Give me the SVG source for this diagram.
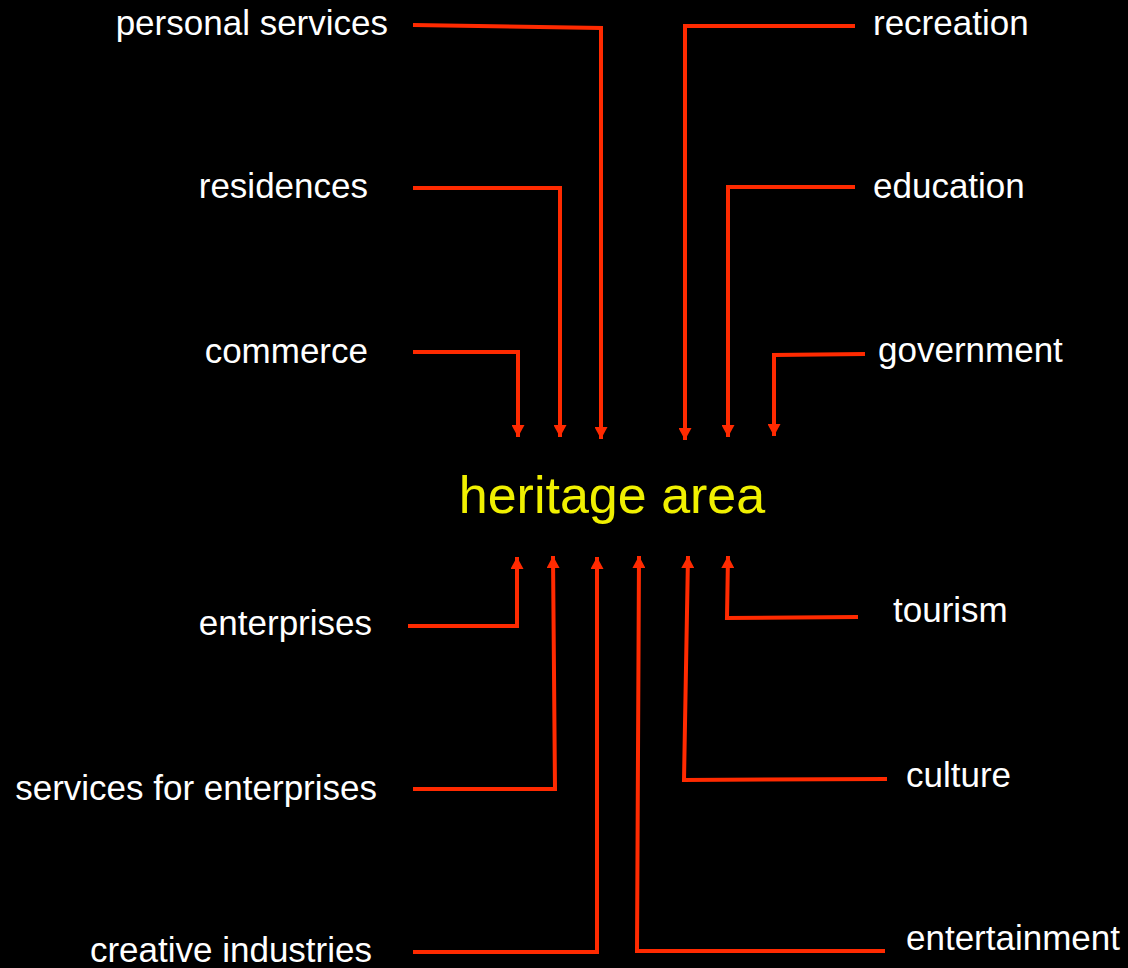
<svg xmlns="http://www.w3.org/2000/svg" width="1128" height="968" viewBox="0 0 1128 968">
<style>
.lbl{font-family:"Liberation Sans",Arial,sans-serif;font-size:35px;fill:#ffffff}
.l{text-anchor:end}
.ttl{font-family:"Liberation Sans",Arial,sans-serif;font-size:52px;fill:#f0f000;text-anchor:middle}
.c{fill:none;stroke:#ff2a00;stroke-width:4;stroke-linejoin:miter}
</style>
<defs>
<marker id="ah" markerUnits="userSpaceOnUse" markerWidth="12" markerHeight="13" viewBox="0 0 12 13" refX="12" refY="6.5" orient="auto">
<path d="M0,0 L12,6.5 L0,13 z" fill="#ff2a00"/>
</marker>
</defs>
<rect width="1128" height="968" fill="#000000"/>
<g id="connectors">
<path class="c" d="M413,25 L601,28 L601,439" marker-end="url(#ah)"/>
<path class="c" d="M413,188 L560,188 L560,437" marker-end="url(#ah)"/>
<path class="c" d="M413,352 L518,352 L518,437" marker-end="url(#ah)"/>
<path class="c" d="M855,26 L685,26 L685,440" marker-end="url(#ah)"/>
<path class="c" d="M855,187 L728,187 L728,437" marker-end="url(#ah)"/>
<path class="c" d="M865,354 L774,355 L774,436" marker-end="url(#ah)"/>
<path class="c" d="M408,626 L517,626 L517,557" marker-end="url(#ah)"/>
<path class="c" d="M413,789 L555,789 L553,556" marker-end="url(#ah)"/>
<path class="c" d="M413,952 L597,952 L597,557" marker-end="url(#ah)"/>
<path class="c" d="M885,951 L637,951 L639,556" marker-end="url(#ah)"/>
<path class="c" d="M887,779 L684,780 L688,556" marker-end="url(#ah)"/>
<path class="c" d="M858,617 L727,618 L728,556" marker-end="url(#ah)"/>
</g>
<g id="heritage-area"><text class="ttl" x="612" y="513">heritage area</text></g>
<g id="personal-services"><text class="lbl l" x="388" y="35">personal services</text></g>
<g id="residences"><text class="lbl l" x="368" y="198">residences</text></g>
<g id="commerce"><text class="lbl l" x="368" y="363">commerce</text></g>
<g id="recreation"><text class="lbl" x="873" y="35">recreation</text></g>
<g id="education"><text class="lbl" x="873" y="198">education</text></g>
<g id="government"><text class="lbl" x="878" y="362">government</text></g>
<g id="enterprises"><text class="lbl l" x="372" y="635">enterprises</text></g>
<g id="services-for-enterprises"><text class="lbl l" x="377" y="800">services for enterprises</text></g>
<g id="creative-industries"><text class="lbl l" x="372" y="962">creative industries</text></g>
<g id="tourism"><text class="lbl" x="893" y="622">tourism</text></g>
<g id="culture"><text class="lbl" x="906" y="787">culture</text></g>
<g id="entertainment"><text class="lbl" x="906" y="950">entertainment</text></g>
</svg>
